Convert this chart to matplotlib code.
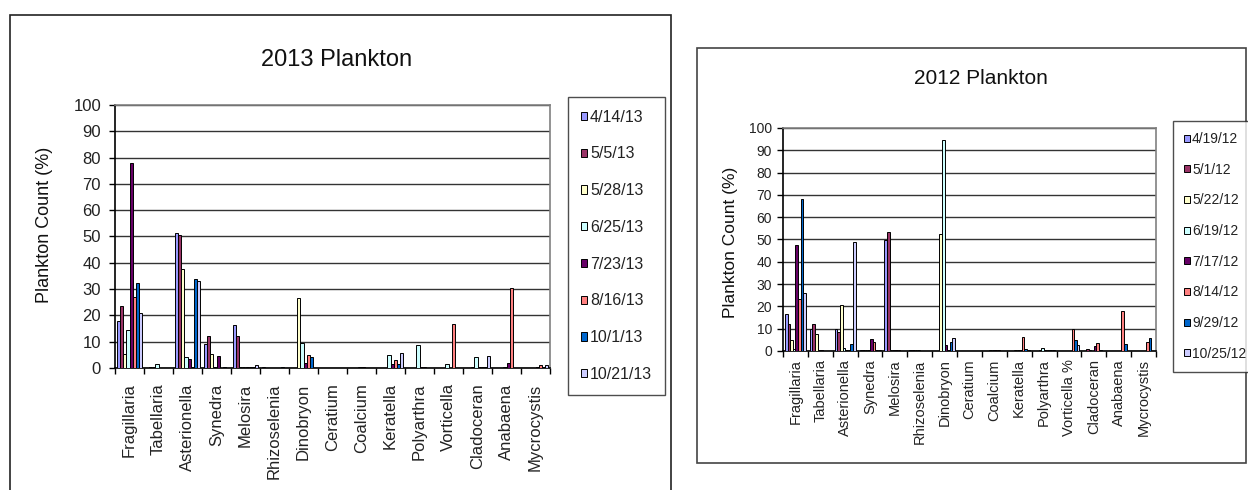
import matplotlib
matplotlib.use("Agg")
import matplotlib.pyplot as plt
from matplotlib.patches import Rectangle
import numpy as np

plt.rcParams['font.family'] = ['Liberation Sans', 'DejaVu Sans']

cats13 = ["Fragillaria", "Tabellaria", "Asterionella", "Synedra", "Melosira",
          "Rhizoselenia", "Dinobryon", "Ceratium", "Coalcium", "Keratella",
          "Polyarthra", "Vorticella", "Cladoceran", "Anabaena", "Mycrocystis"]
cats12 = ["Fragillaria", "Tabellaria", "Asterionella", "Synedra", "Melosira",
          "Rhizoselenia", "Dinobryon", "Ceratium", "Coalcium", "Keratella",
          "Polyarthra", "Vorticella %", "Cladoceran", "Anabaena", "Mycrocystis"]

dates13 = ["4/14/13", "5/5/13", "5/28/13", "6/25/13", "7/23/13", "8/16/13", "10/1/13", "10/21/13"]
dates12 = ["4/19/12", "5/1/12", "5/22/12", "6/19/12", "7/17/12", "8/14/12", "9/29/12", "10/25/12"]

# 2013 series
s13_0414 = [18, 0, 51.5, 9, 16.5, 0.4, 0, 0, 0, 0, 0, 0, 0, 0, 0]
s13_0505 = [23.5, 0.3, 50.5, 12, 12, 0, 0, 0, 0, 0, 0, 0, 0, 0, 0]
s13_0528 = [5.2, 0.3, 37.5, 5.2, 0.3, 0, 26.5, 0, 0, 0, 0, 0, 0.3, 0, 0]
s13_0625 = [14.5, 1.4, 4.2, 0.5, 0.3, 0, 9.6, 0, 0.3, 4.8, 8.8, 1.7, 4.2, 0.3, 0]
s13_0723 = [78, 0, 3.6, 4.6, 0.3, 0, 2, 0, 0.3, 1.4, 0.4, 0, 0.3, 2, 0.3]
s13_0816 = [27, 0, 0.3, 0, 0.3, 0, 4.8, 0, 0, 3.2, 0.4, 16.8, 0.3, 30.5, 1]
s13_1001 = [32.5, 0, 34, 0.3, 0.3, 0.3, 4, 0, 0, 1.4, 0, 0, 0.3, 0, 0.5]
s13_1021 = [20.8, 0, 33.2, 0, 1, 0, 0, 0, 0, 5.8, 0, 0, 4.4, 0, 1]

# 2012 series
s12_0419 = [16.8, 10, 10, 0.3, 49.8, 0.3, 0, 0, 0, 0, 0, 0, 0, 0, 0]
s12_0501 = [12.3, 12, 8.5, 0.3, 53.2, 0.3, 0, 0, 0, 0, 0, 0, 1, 0, 0]
s12_0522 = [5.1, 7.5, 20.8, 0.3, 0.3, 0.3, 52.5, 0, 0.3, 0.3, 0.3, 0, 0.3, 0, 0]
s12_0619 = [1, 0.3, 1.5, 0.3, 0.3, 0.3, 94.5, 0, 0.3, 0.3, 1.5, 0, 0, 0, 0]
s12_0717 = [47.4, 0.3, 0.3, 5.4, 0.5, 0, 2.5, 0, 0.3, 0.3, 0.5, 0, 2.4, 0, 0]
s12_0814 = [23.1, 0, 0.3, 4.2, 0.3, 0, 0.5, 0, 0.3, 6.3, 0.5, 10, 3.6, 18, 4]
s12_0929 = [68, 0, 3, 0.3, 0, 0, 4, 0, 0, 1, 0.3, 4.8, 0.3, 3.3, 5.8]
s12_1025 = [25.8, 0, 49, 0.3, 0, 0, 5.8, 0, 0, 0.3, 0.3, 2.5, 0, 0, 0]

series13 = [s13_0414, s13_0505, s13_0528, s13_0625, s13_0723, s13_0816, s13_1001, s13_1021]
series12 = [s12_0419, s12_0501, s12_0522, s12_0619, s12_0717, s12_0814, s12_0929, s12_1025]

colors = ["#9999FF", "#993366", "#FFFFCC", "#CCFFFF", "#660066", "#FF8080", "#0066CC", "#CCCCFF"]

W, H = 1248, 490
fig = plt.figure(figsize=(W / 100, H / 100), dpi=100)
fig.patch.set_facecolor("white")


def px_rect(x0, y0, x1, y1):
    # pixel coords (top-left origin) -> figure fraction [l, b, w, h]
    return [x0 / W, (H - y1) / H, (x1 - x0) / W, (y1 - y0) / H]


def draw_chart(rect, cats, dates, series, tick_fs, xlab_fs, xpad, ypad, leg_anchor, leg_fs,
               leg_spacing, leg_borderpad):
    ax = fig.add_axes(rect)
    n = len(cats)
    ns = len(series)
    w = 1 / 9.5
    x = np.arange(n)
    handles = []
    for i, (vals, c, d) in enumerate(zip(series, colors, dates)):
        b = ax.bar(x + (i - (ns - 1) / 2) * w, vals, width=w, color=c,
                   edgecolor="black", linewidth=0.7, label=d, zorder=3)
        handles.append(b)
    ax.set_xlim(-0.5, n - 0.5)
    ax.set_ylim(0, 100)
    ax.set_yticks(np.arange(0, 101, 10))
    ax.yaxis.grid(True, color="#333333", linewidth=1.0, zorder=0)
    ax.set_axisbelow(True)
    ax.set_xticks(np.arange(-0.5, n, 1.0))
    ax.set_xticklabels([])
    ax.set_xticks(x, minor=True)
    ax.set_xticklabels(cats, minor=True, rotation=90, fontsize=xlab_fs, va="top", ha="center")
    ax.tick_params(axis="x", which="major", direction="out", length=4, width=1, color="black")
    ax.tick_params(axis="x", which="minor", length=0, pad=xpad, colors="#222222")
    ax.tick_params(axis="y", direction="out", length=4, width=1, pad=ypad, labelsize=tick_fs,
                   labelcolor="#222222")
    for s in ["top", "right"]:
        ax.spines[s].set_color("#808080")
        ax.spines[s].set_linewidth(1.2)
    for s in ["left", "bottom"]:
        ax.spines[s].set_color("black")
        ax.spines[s].set_linewidth(1.2)
    leg = fig.legend(handles=handles, labels=dates, loc="upper left", bbox_to_anchor=leg_anchor,
                     bbox_transform=fig.transFigure, fontsize=leg_fs, frameon=True, fancybox=False,
                     edgecolor="#222222", handlelength=0.42, handleheight=0.42, handletextpad=0.15,
                     labelspacing=leg_spacing, borderpad=leg_borderpad, borderaxespad=0)
    leg.get_frame().set_linewidth(1.0)
    for t in leg.get_texts():
        t.set_color("#222222")
    return ax


# outer frames
fig.add_artist(Rectangle((10 / W, -0.02), 661 / W, (H - 15) / H + 0.02, transform=fig.transFigure,
                         fill=False, edgecolor="#222222", linewidth=1.2))
fig.add_artist(Rectangle((697 / W, (H - 463) / H), 549 / W, 415 / H, transform=fig.transFigure,
                         fill=False, edgecolor="#444444", linewidth=1.2))

draw_chart(px_rect(115, 105, 550, 368), cats13, dates13, series13, tick_fs=12, xlab_fs=12,
           xpad=11, ypad=6, leg_anchor=(568 / W, 1 - 97 / H), leg_fs=11.5, leg_spacing=1.36,
           leg_borderpad=0.8)
draw_chart(px_rect(783, 128, 1156, 351), cats12, dates12, series12, tick_fs=10, xlab_fs=10.5,
           xpad=6, ypad=4, leg_anchor=(1173 / W, 1 - 121 / H), leg_fs=10, leg_spacing=1.2,
           leg_borderpad=0.8)

fig.text(337 / W, 1 - 60 / H, "2013 Plankton", ha="center", va="center", fontsize=17, color="#111111")
fig.text(981 / W, 1 - 79 / H, "2012 Plankton", ha="center", va="center", fontsize=15, color="#111111")
fig.text(45 / W, 1 - 225 / H, "Plankton Count (%)", ha="center", va="center", rotation=90,
         fontsize=13, color="#111111")
fig.text(730 / W, 1 - 242 / H, "Plankton Count (%)", ha="center", va="center", rotation=90,
         fontsize=12.5, color="#111111")

fig.savefig("out.png", dpi=100, facecolor="white")
